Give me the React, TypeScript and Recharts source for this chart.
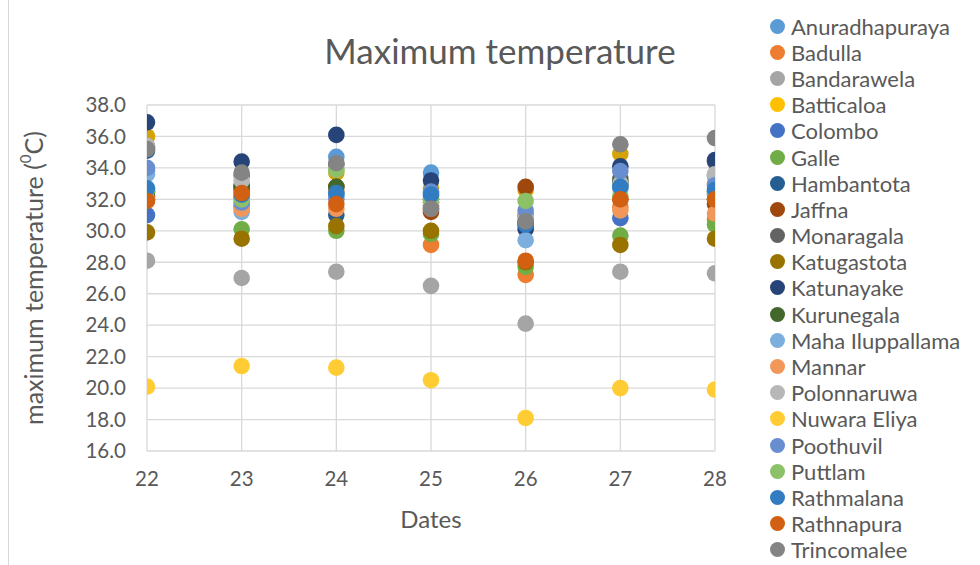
import React from "react";
import { ScatterChart, Scatter, XAxis, YAxis, CartesianGrid } from "recharts";

const dates = [22, 23, 24, 25, 26, 27, 28];
const yTicks = [16, 18, 20, 22, 24, 26, 28, 30, 32, 34, 36, 38];

const stations = [
    "Anuradhapuraya", "Badulla", "Bandarawela", "Batticaloa", "Colombo", "Galle", "Hambantota",
    "Jaffna", "Monaragala", "Katugastota", "Katunayake", "Kurunegala", "Maha Iluppallama", "Mannar",
    "Polonnaruwa", "Nuwara Eliya", "Poothuvil", "Puttlam", "Rathmalana", "Rathnapura", "Trincomalee",
];

const anuradhapuraya = [33.8, 31.5, 34.7, 33.7, 30.9, 32.8, 33.5];
const badulla = [32.0, 31.6, 32.5, 29.1, 27.2, 31.5, 30.7];
const bandarawela = [28.1, 27.0, 27.4, 26.5, 24.1, 27.4, 27.3];
const batticaloa = [36.0, 32.7, 33.7, 32.7, 32.6, 34.9, 33.0];
const colombo = [31.0, 32.1, 32.3, 32.4, 30.6, 30.8, 32.3];
const galle = [32.4, 30.1, 30.0, 29.8, 27.7, 29.7, 30.4];
const hambantota = [35.1, 32.8, 31.0, 32.0, 30.5, 33.0, 32.5];
const jaffna = [32.2, 32.6, 32.8, 31.2, 32.8, 32.0, 31.7];
const monaragala = [35.3, 33.5, 34.2, 31.6, 30.3, 33.3, 34.4];
const katugastota = [29.9, 29.5, 30.3, 30.0, 28.0, 29.1, 29.5];
const katunayake = [36.9, 34.4, 36.1, 33.2, 30.1, 34.1, 34.5];
const kurunegala = [32.5, 32.9, 32.8, 31.8, 31.0, 33.1, 32.0];
const mahaIluppallama = [33.6, 31.2, 32.2, 32.2, 29.4, 32.7, 33.5];
const mannar = [32.0, 31.4, 31.4, 32.0, 31.0, 31.3, 31.1];
const polonnaruwa = [35.4, 33.2, 33.9, 31.8, 30.8, 33.0, 33.6];
const nuwaraEliya = [20.1, 21.4, 21.3, 20.5, 18.1, 20.0, 19.9];
const poothuvil = [34.0, 31.8, 32.0, 32.5, 31.3, 33.8, 32.9];
const puttlam = [32.6, 32.0, 33.9, 32.0, 31.9, 32.2, 32.4];
const rathmalana = [32.7, 32.3, 32.4, 32.3, 30.4, 32.8, 32.6];
const rathnapura = [31.9, 32.4, 31.7, 31.4, 28.1, 32.0, 32.0];
const trincomalee = [35.2, 33.7, 34.3, 31.4, 30.6, 35.5, 35.9];

const values = [
    anuradhapuraya, badulla, bandarawela, batticaloa, colombo, galle, hambantota,
    jaffna, monaragala, katugastota, katunayake, kurunegala, mahaIluppallama, mannar,
    polonnaruwa, nuwaraEliya, poothuvil, puttlam, rathmalana, rathnapura, trincomalee,
];

const legendColors = [
    "#5B9BD5", "#ED7D31", "#A5A5A5", "#FFC000", "#4472C4", "#70AD47", "#255E91",
    "#9E480E", "#636363", "#997300", "#264478", "#43682B", "#7CAFDD", "#F1975A",
    "#B7B7B7", "#FFCD33", "#698ED0", "#8CC168", "#327DC2", "#D26012", "#848484",
];
// markers for Batticaloa render a darker gold than its legend swatch
const markerColors = legendColors.map((c, i) => (i === 3 ? "#D4A30A" : c));

const textColor = "#595959";
const font = "Lato, 'Open Sans', sans-serif";

const LegendList = () => (
    <div
        style={{
            position: "absolute",
            left: 770,
            top: 13,
            fontFamily: font,
            fontSize: 22,
            color: textColor,
        }}
    >
        {stations.map((s, i) => (
            <div key={s} style={{ display: "flex", alignItems: "center", height: 26.2, whiteSpace: "nowrap" }}>
                <span
                    style={{
                        width: 15,
                        height: 15,
                        borderRadius: "50%",
                        background: legendColors[i],
                        display: "inline-block",
                        marginRight: 6,
                    }}
                />
                {s}
            </div>
        ))}
    </div>
);

const YTitle = ({ viewBox }: any) => {
    const cx = 33;
    const cy = viewBox.y + viewBox.height / 2;
    return (
        <text
            x={cx}
            y={cy}
            transform={`rotate(-90 ${cx} ${cy})`}
            textAnchor="middle"
            dominantBaseline="central"
            fill={textColor}
            fontSize={25}
            fontFamily={font}
        >
            maximum temperature (
            <tspan fontSize={15} dy={-8}>0</tspan>
            <tspan dy={8}>C)</tspan>
        </text>
    );
};

export default function App() {
    return (
        <div
            style={{
                position: "absolute",
                left: 0,
                top: 0,
                width: 980,
                height: 565,
                background: "#fff",
                overflow: "hidden",
            }}
        >
            <div style={{ position: "absolute", left: 8, top: 0, width: 1, height: 565, background: "#D9D9D9" }} />
            <div
                style={{
                    position: "absolute",
                    left: 500,
                    top: 29,
                    transform: "translateX(-50%)",
                    fontFamily: font,
                    fontSize: 35,
                    color: textColor,
                    whiteSpace: "nowrap",
                }}
            >
                Maximum temperature
            </div>
            <ScatterChart width={980} height={565} margin={{ top: 105, right: 265, bottom: 54, left: 67 }}>
                <CartesianGrid stroke="#D9D9D9" strokeWidth={1.3} />
                <XAxis
                    type="number"
                    dataKey="x"
                    domain={[22, 28]}
                    ticks={dates}
                    allowDataOverflow
                    axisLine={false}
                    tickLine={false}
                    tickSize={0}
                    tickMargin={20}
                    height={60}
                    tick={{ fill: textColor, fontSize: 20.5, fontFamily: font }}
                    label={{ value: "Dates", position: "bottom", offset: 0, fill: textColor, fontSize: 24, fontFamily: font }}
                />
                <YAxis
                    type="number"
                    dataKey="y"
                    domain={[16, 38]}
                    ticks={yTicks}
                    axisLine={false}
                    tickLine={false}
                    tickSize={0}
                    tickMargin={21}
                    width={80}
                    tickFormatter={(v: number) => v.toFixed(1)}
                    tick={{ fill: textColor, fontSize: 20.5, fontFamily: font }}
                    label={{ content: YTitle }}
                />
                {stations.map((s, i) => (
                    <Scatter
                        key={s}
                        name={s}
                        data={dates.map((d, j) => ({ x: d, y: values[i][j] }))}
                        fill={markerColors[i]}
                        isAnimationActive={false}
                        shape={(p: any) => <circle cx={p.cx} cy={p.cy} r={8.3} fill={markerColors[i]} />}
                    />
                ))}
            </ScatterChart>
            <LegendList />
        </div>
    );
}
